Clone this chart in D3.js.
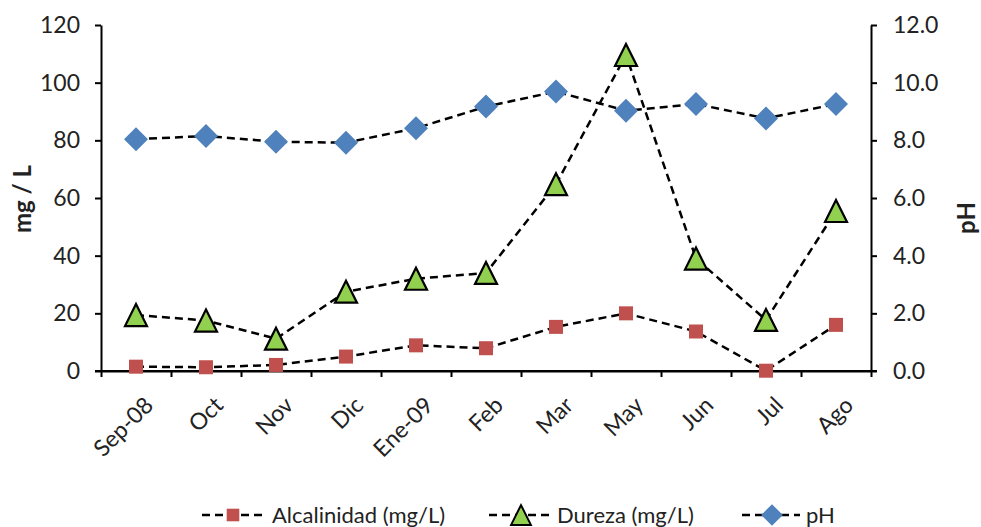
<!DOCTYPE html>
<html>
<head>
<meta charset="utf-8">
<script src="https://cdn.jsdelivr.net/npm/d3@7"></script>
<style>
  html, body { margin: 0; padding: 0; background: #fff; }
  svg { display: block; }
  text { font-family: Lato, "Open Sans", sans-serif; fill: #222; }
</style>
</head>
<body>
<svg id="chart" width="981" height="527"></svg>
<script>
const categories = ["Sep-08","Oct","Nov","Dic","Ene-09","Feb","Mar","May","Jun","Jul","Ago"];
const alcalinidad = [1.5, 1.3, 2.1, 5.0, 8.9, 7.9, 15.3, 20.0, 13.7, 0.1, 16.0];
const dureza = [19.4, 17.5, 11.2, 27.5, 32.0, 34.0, 64.8, 109.6, 39.0, 17.7, 55.5];
const ph = [8.04, 8.15, 7.95, 7.92, 8.42, 9.17, 9.69, 9.03, 9.26, 8.76, 9.26];
const leftTicks = [0, 20, 40, 60, 80, 100, 120];
const rightTicks = [0, 2, 4, 6, 8, 10, 12];
const legendLabels = ["Alcalinidad (mg/L)", "Dureza (mg/L)", "pH"];

const svg = d3.select("#chart");
const L = 101, R = 871, T = 25, B = 371;

const x = d3.scaleBand().domain(categories).range([L, R]).padding(0);
const xc = c => x(c) + x.bandwidth() / 2;
const xb = d3.scaleLinear().domain([0, categories.length]).range([L, R]);
const yL = d3.scaleLinear().domain([0, 120]).range([B, T]);
const yR = d3.scaleLinear().domain([0, 12]).range([B, T]);

// Axes
const gxAxis = svg.append("g").attr("transform", `translate(0,${B})`)
  .call(d3.axisBottom(xb).tickValues(d3.range(categories.length + 1)).tickFormat("").tickSize(6).tickSizeOuter(0));
const gl = svg.append("g").attr("transform", `translate(${L},0)`)
  .call(d3.axisLeft(yL).tickValues(leftTicks).tickFormat(d3.format("d")).tickSize(6).tickSizeOuter(0).tickPadding(15));
const gr = svg.append("g").attr("transform", `translate(${R},0)`)
  .call(d3.axisRight(yR).tickValues(rightTicks).tickFormat(d3.format(".1f")).tickSize(6).tickSizeOuter(0).tickPadding(16));

[gxAxis, gl, gr].forEach(g => {
  g.selectAll("path.domain").attr("stroke", "#000").attr("stroke-width", 2);
  g.selectAll(".tick line").attr("stroke", "#000").attr("stroke-width", 2);
  g.selectAll(".tick text").attr("font-size", 23).attr("fill", "#222")
    .attr("font-family", "Lato, 'Open Sans', sans-serif");
});
// extend x axis line across the y-axis zero ticks
svg.append("line").attr("x1", L - 6).attr("x2", R + 6).attr("y1", B).attr("y2", B)
  .attr("stroke", "#000").attr("stroke-width", 2);

// category labels
svg.append("g").selectAll("text").data(categories).join("text")
  .attr("transform", d => `translate(${xc(d) + 7},${B + 24}) rotate(-45)`)
  .attr("text-anchor", "end")
  .attr("dy", "0.72em")
  .attr("font-size", 23)
  .text(d => d);

// axis titles
svg.append("text")
  .attr("transform", `translate(31,${199}) rotate(-90)`)
  .attr("text-anchor", "middle")
  .attr("font-size", 24).attr("font-weight", "bold")
  .attr("fill", "#000")
  .text("mg / L");
svg.append("text")
  .attr("transform", `translate(975,${218}) rotate(-90)`)
  .attr("text-anchor", "middle")
  .attr("font-size", 24).attr("font-weight", "bold")
  .attr("fill", "#000")
  .text("pH");

// markers
const sqSize = 14;
const square = (g) => g.append("rect").attr("x", -sqSize/2).attr("y", -sqSize/2)
  .attr("width", sqSize).attr("height", sqSize).attr("fill", "#C0504D");
const triangle = (g) => g.append("path").attr("d", "M0,-11L11,11L-11,11Z")
  .attr("fill", "#92D050").attr("stroke", "#000").attr("stroke-width", 2.2).attr("stroke-linejoin", "miter");
const diamond = (g) => g.append("path").attr("d", "M0,-12L12,0L0,12L-12,0Z")
  .attr("fill", "#4F81BD");

const series = [
  { name: legendLabels[0], values: alcalinidad, y: yL, marker: square },
  { name: legendLabels[1], values: dureza, y: yL, marker: triangle },
  { name: legendLabels[2], values: ph, y: yR, marker: diamond }
];

series.forEach(s => {
  const pts = categories.map((c, i) => [xc(c), s.y(s.values[i])]);
  svg.append("path").datum(pts)
    .attr("d", d3.line())
    .attr("fill", "none").attr("stroke", "#000").attr("stroke-width", 2.5)
    .attr("stroke-dasharray", "8,5");
  const mg = svg.append("g");
  pts.forEach(p => {
    const g = mg.append("g").attr("transform", `translate(${p[0]},${p[1]})`);
    s.marker(g);
  });
});

// legend
const legendItems = [
  { x0: 202, x1: 262, mx: 233, tx: 272 },
  { x0: 489, x1: 549, mx: 521, tx: 557 },
  { x0: 742, x1: 800, mx: 772, tx: 806 }
];
const ly = 515;
series.forEach((s, i) => {
  const it = legendItems[i];
  svg.append("line").attr("x1", it.x0).attr("x2", it.x1).attr("y1", ly).attr("y2", ly)
    .attr("stroke", "#000").attr("stroke-width", 2.5).attr("stroke-dasharray", "8,5");
  const g = svg.append("g").attr("transform", `translate(${it.mx},${ly}) scale(0.9)`);
  s.marker(g);
  svg.append("text").attr("x", it.tx).attr("y", ly + 8).attr("font-size", 22).text(s.name);
});
</script>
</body>
</html>
